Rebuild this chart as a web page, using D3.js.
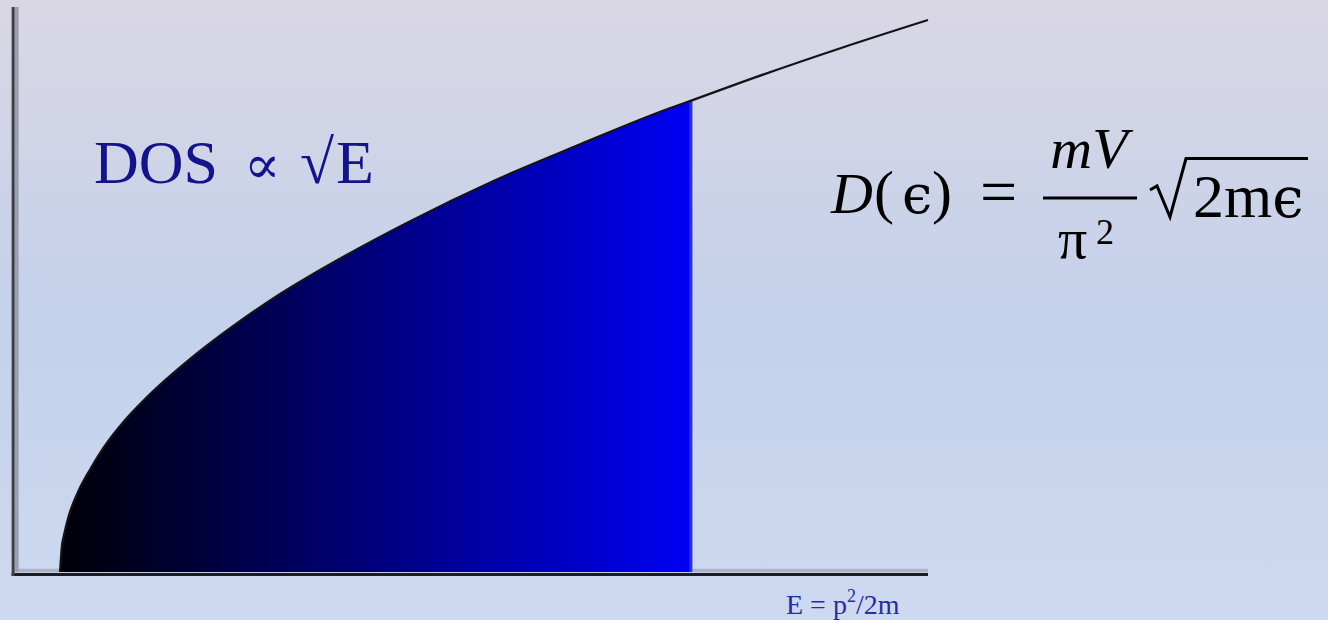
<!DOCTYPE html>
<html><head><meta charset="utf-8">
<script src="https://cdn.jsdelivr.net/npm/d3@7"></script>
<style>html,body{margin:0;padding:0;overflow:hidden;}svg{display:block;}</style>
</head><body>
<script>
// Energy samples (arbitrary units) and density of states
const energy = [0, 0.02, 0.05, 0.1, 0.2, 0.35, 0.5, 0.75, 1, 1.5, 2, 2.5, 3, 4, 5, 6, 7, 7.28, 8, 9, 10];
const dos    = [0, 0.14, 0.22, 0.32, 0.45, 0.59, 0.71, 0.87, 1.0, 1.22, 1.41, 1.58, 1.73, 2.0, 2.24, 2.45, 2.65, 2.70, 2.83, 3.0, 3.16];
const fermiEnergy = 7.28;     // filled states up to here
const axisRange = [-0.54, 10];
const dosLabel = "DOS";
const axisLabel = ["E = p", "2", "/2m"];

const W = 1328, H = 620;
const svg = d3.select("body").append("svg").attr("width", W).attr("height", H);
const defs = svg.append("defs");

const bg = defs.append("linearGradient").attr("id","bg").attr("x1",0).attr("y1",0).attr("x2",0).attr("y2",1);
bg.append("stop").attr("offset","0").attr("stop-color","#dad7e4");
bg.append("stop").attr("offset","0.5").attr("stop-color","#c4d1eb");
bg.append("stop").attr("offset","1").attr("stop-color","#cdd9f0");
svg.append("rect").attr("width",W).attr("height",H).attr("fill","url(#bg)");

const x = d3.scaleLinear().domain([0,10]).range([60,928]);
const y = d3.scaleLinear().domain([0,3.16]).range([572,20]);

const pts = energy.map((e,i)=>({e, d: dos[i]}));
const filled = pts.filter(p => p.e <= fermiEnergy);

const fg = defs.append("linearGradient").attr("id","fillg").attr("gradientUnits","userSpaceOnUse")
  .attr("x1", x(0)).attr("x2", x(fermiEnergy)).attr("y1",0).attr("y2",0);
fg.append("stop").attr("offset","0").attr("stop-color","#000006");
fg.append("stop").attr("offset","1").attr("stop-color","#0000f4");

// axes (gray shadow lines then dark lines)
const yTop = y.invert(7);
svg.append("line").attr("x1", x(axisRange[0])+3).attr("x2", x(axisRange[1]))
  .attr("y1", y(0)-1.5).attr("y2", y(0)-1.5).attr("stroke","#a9b4c8").attr("stroke-width",3.5);
svg.append("line").attr("x1", x(axisRange[0])+3.5).attr("x2", x(axisRange[0])+3.5)
  .attr("y1", y(yTop)).attr("y2", y(0)).attr("stroke","#9c9eac").attr("stroke-width",4);

const area = d3.area().x(p=>x(p.e)).y0(y(0)).y1(p=>y(p.d)).curve(d3.curveMonotoneX);
svg.append("path").datum(filled).attr("d", area).attr("fill","url(#fillg)");
svg.append("line").attr("x1", x(fermiEnergy)-1).attr("x2", x(fermiEnergy)-1)
  .attr("y1", y(0)).attr("y2", y(dos[energy.indexOf(fermiEnergy)]))
  .attr("stroke","#2a2aff").attr("stroke-width",3);

const line = d3.line().x(p=>x(p.e)).y(p=>y(p.d)).curve(d3.curveMonotoneX);
svg.append("path").datum(pts).attr("d", line).attr("fill","none").attr("stroke","#141418").attr("stroke-width",2.2);

svg.append("line").attr("x1", x(axisRange[0])-1.5).attr("x2", x(axisRange[1]))
  .attr("y1", y(0)+2.5).attr("y2", y(0)+2.5).attr("stroke","#1b1b20").attr("stroke-width",3);
svg.append("line").attr("x1", x(axisRange[0])).attr("x2", x(axisRange[0]))
  .attr("y1", y(yTop)).attr("y2", y(0)+4).attr("stroke","#3e3e46").attr("stroke-width",3);

// DOS ∝ √E label
const serif = "'Liberation Serif','Times New Roman',serif";
const lab = svg.append("text").attr("fill","#13138a").attr("font-family",serif).attr("y",183);
lab.append("tspan").attr("x",94).attr("font-size",62).text(dosLabel);
lab.append("tspan").attr("x",244).attr("font-size",54).attr("font-family","'DejaVu Serif',serif").text("∝");
lab.append("tspan").attr("x",300).attr("font-size",62).text("√");
lab.append("tspan").attr("x",336).attr("font-size",62).text("E");

// axis label
const al = svg.append("text").attr("fill","#2b2b9c").attr("font-family",serif).attr("font-size",28).attr("y",614);
al.append("tspan").attr("x",786).text(axisLabel[0]);
al.append("tspan").attr("dy",-12).attr("font-size",18).text(axisLabel[1]);
al.append("tspan").attr("dy",12).text(axisLabel[2]);

// formula D(ϵ) = mV/π² √(2mϵ)
const f = svg.append("g").attr("fill","#000").attr("font-family",serif);
f.append("text").attr("x",831).attr("y",213).attr("font-size",58).attr("font-style","italic").text("D");
f.append("text").attr("x",874).attr("y",212).attr("font-size",60).text("(");
f.append("text").attr("x",902).attr("y",213).attr("font-size",54).attr("font-family","'DejaVu Serif',serif").text("ϵ");
f.append("text").attr("x",932).attr("y",212).attr("font-size",60).text(")");
f.append("text").attr("x",980).attr("y",214).attr("font-size",66).text("=");
f.append("text").attr("x",1089).attr("y",168).attr("font-size",58).attr("font-style","italic").attr("text-anchor","middle").text("mV");
f.append("line").attr("x1",1043).attr("x2",1137).attr("y1",198).attr("y2",198).attr("stroke","#000").attr("stroke-width",3);
f.append("text").attr("x",1058).attr("y",258).attr("font-size",58).text("π");
f.append("text").attr("x",1096).attr("y",244).attr("font-size",36).text("2");
f.append("path").attr("d","M1150,190 L1157,186 L1170,217 L1186,158.5 L1308,158.5")
  .attr("fill","none").attr("stroke","#000").attr("stroke-width",3);
const rad = f.append("text").attr("y",217).attr("font-size",62);
rad.append("tspan").attr("x",1193).text("2m");
rad.append("tspan").attr("font-size",56).attr("font-family","'DejaVu Serif',serif").text("ϵ");
</script>
</body></html>
